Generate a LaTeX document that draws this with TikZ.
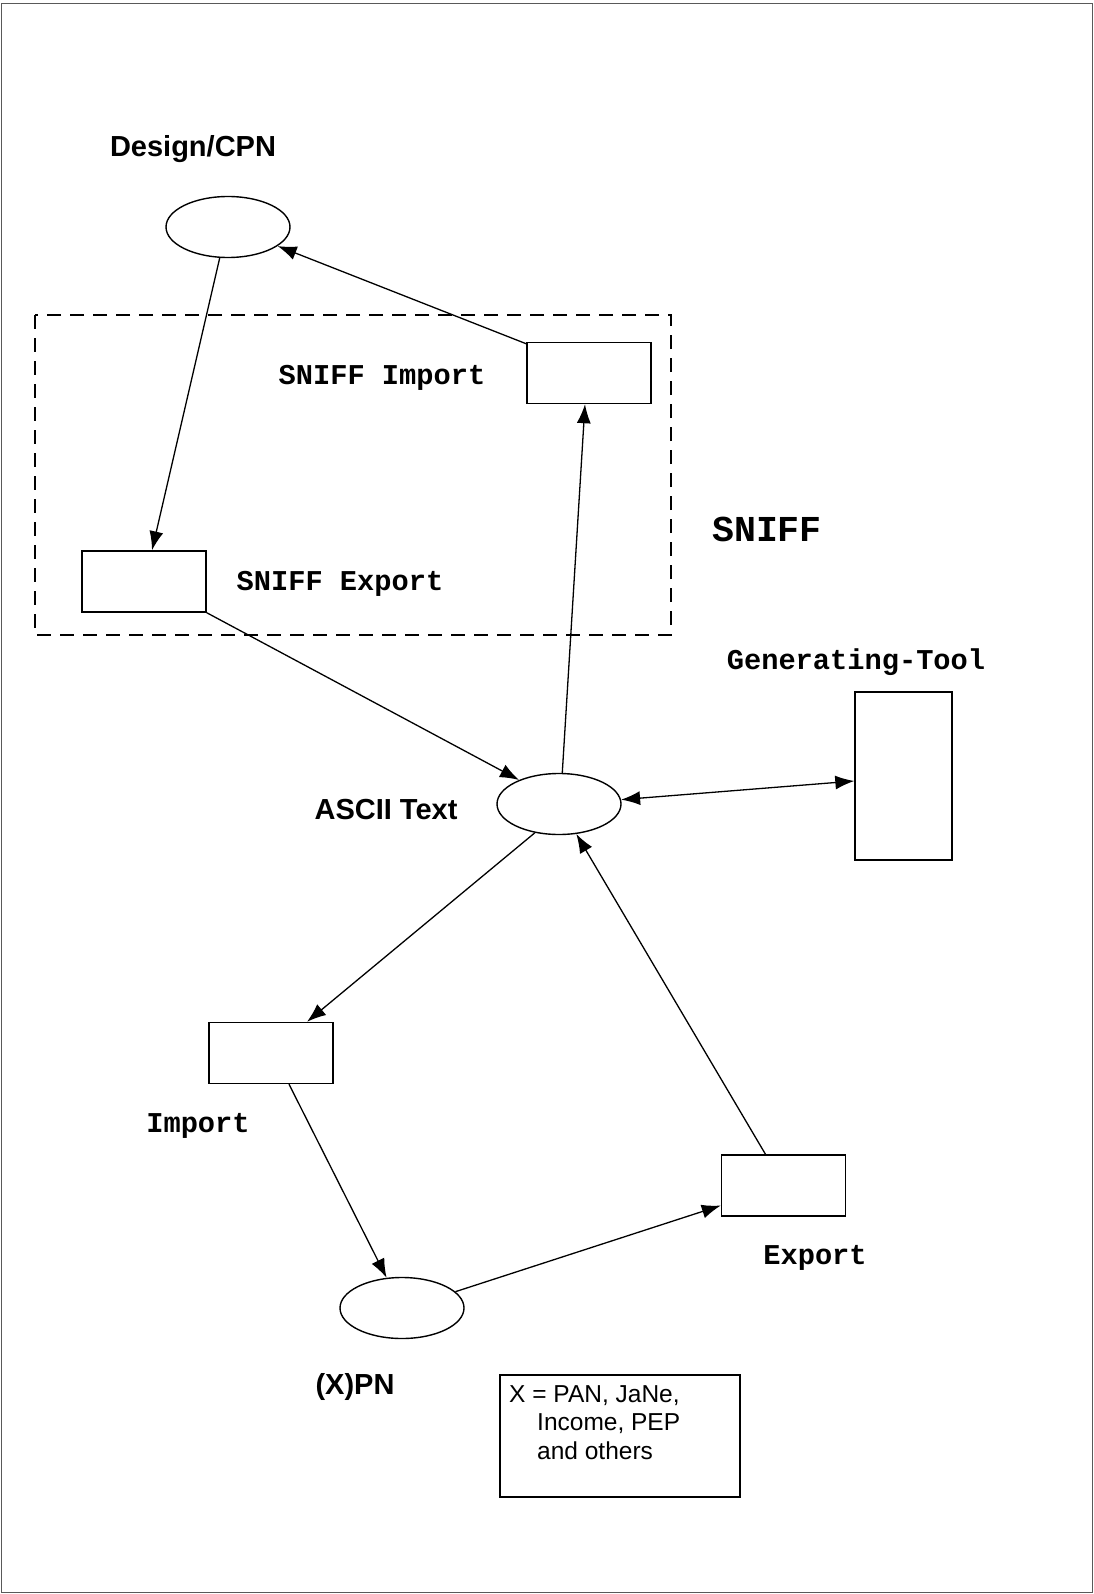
\documentclass[tikz,border=0pt]{standalone}
\usepackage{fontspec}
\setmainfont{Liberation Sans}
\newfontfamily\cour{Liberation Mono}
\usetikzlibrary{arrows.meta,calc,shapes.geometric}
\tikzset{
  place/.style={draw,line width=1.4pt,ellipse,minimum width=124pt,minimum height=61pt,inner sep=0pt},
  trans/.style={draw,line width=1.4pt,rectangle,minimum width=124pt,minimum height=61pt,inner sep=0pt},
  tip/.tip={Latex[length=19pt,width=14pt]},
  conn/.style={line width=1.3pt,-tip},
  sanslab/.style={font=\fontsize{29}{34}\selectfont\bfseries,inner sep=0pt},
  monolab/.style={font=\cour\fontsize{28.7}{32}\selectfont\bfseries,inner sep=0pt},
  notetext/.style={font=\fontsize{24.5}{28.5}\selectfont,inner sep=0pt,anchor=base west},
}
\begin{document}
\begin{tikzpicture}[x=1pt,y=1pt]
\useasboundingbox (0,0) rectangle (1093,-1594);
\draw[gray!70!black,line width=1pt] (1,-4) rectangle (1092,-1592);
% dashed SNIFF area
\draw[line width=1.4pt,dash pattern=on 14pt off 9pt] (35,-315) rectangle (671,-635);
% nodes
\node[place] (dcpn) at (228,-227) {};
\node[trans] (simp) at (589,-373) {};
\node[trans] (sexp) at (144,-581.5) {};
\node[place] (ascii) at (559,-804) {};
\node[draw,line width=1.4pt,minimum width=97pt,minimum height=168pt,inner sep=0pt] (gen) at (903.5,-776) {};
\node[trans] (imp) at (271,-1053) {};
\node[trans] (exp) at (783.5,-1185.5) {};
\node[place] (xpn) at (402,-1308) {};
\node[draw,line width=1.4pt,minimum width=240pt,minimum height=122pt,inner sep=0pt] (note) at (620,-1436) {};
% labels
\node[sanslab] (ldcpn) at (193,-149) {Design/CPN};
\node[monolab] (lsimp) at (382,-378) {SNIFF Import};
\node[monolab] (lsexp) at (340,-584) {SNIFF Export};
\node[font=\cour\fontsize{36.5}{40}\selectfont\bfseries,inner sep=0pt] (lsniff) at (767,-529) {SNIFF};
\node[monolab] (lgen) at (856,-662) {Generating-Tool};
\node[sanslab] (lascii) at (386,-810) {ASCII Text};
\node[monolab] (limp) at (198,-1126) {Import};
\node[monolab] (lexp) at (815,-1258) {Export};
\node[sanslab] (lxpn) at (355,-1387) {(X)PN};
\node[notetext] (lnote1) at (509,-1402) {X = PAN, JaNe,};
\node[notetext] (lnote2) at (537,-1430.5) {Income, PEP};
\node[notetext] (lnote3) at (537,-1459) {and others};
% connectors
\draw[conn] (dcpn.-105) -- ([xshift=8pt]sexp.north);
\draw[conn] ([yshift=-2pt]simp.north west) -- (dcpn.-21);
\draw[conn] (sexp.south east) -- (ascii.149);
\draw[conn] (ascii.84) -- ([xshift=-4pt]simp.south);
\draw[line width=1.3pt,tip-tip] (ascii.4) -- ([yshift=-5pt]gen.west);
\draw[conn] (ascii.-130) -- ([xshift=36pt]imp.north);
\draw[conn] ([xshift=18pt]imp.south) -- (xpn.117);
\draw[conn] (xpn.17) -- ([yshift=-20pt]exp.west);
\draw[conn] ([xshift=-18pt]exp.north) -- (ascii.-60);
\end{tikzpicture}
\end{document}
